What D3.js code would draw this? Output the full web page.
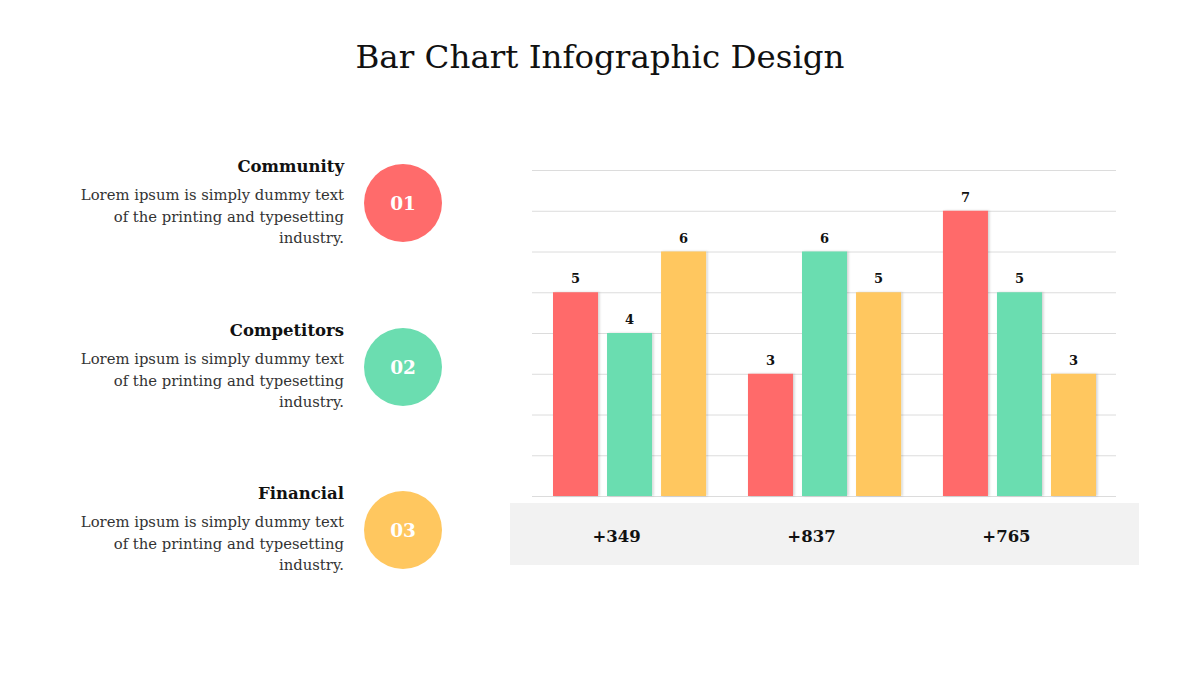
<!DOCTYPE html>
<html lang="en">
<head>
<meta charset="UTF-8">
<title>Bar Chart Infographic Design</title>
<style>
	body { margin: 0; background: #fff; }
	svg text { font-family: "DejaVu Serif", serif; fill: #111; }
	.title { font-size: 32.5px; text-anchor: middle; }
	.head { font-size: 16.5px; font-weight: bold; text-anchor: end; }
	.body { font-size: 14.8px; text-anchor: end; fill: #333; }
	.num { font-size: 18.5px; font-weight: bold; fill: #fff; text-anchor: middle; }
	.val { font-size: 13px; font-weight: bold; text-anchor: middle; }
	.total { font-size: 16.5px; font-weight: bold; text-anchor: middle; }
	.grid line { stroke: #dcdcdc; stroke-width: 1; }
</style>
</head>
<body>
<svg id="chart" width="1200" height="675"></svg>
<script src="https://d3js.org/d3.v7.min.js"></script>
<script>
	var groups = ["+349", "+837", "+765"];
	var series = ["Community", "Competitors", "Financial"];
	var colors = ["#ff6b6b", "#6bddb0", "#ffc75f"];
	var community = [5, 3, 7];
	var competitors = [4, 6, 5];
	var financial = [6, 5, 3];
	var ticks = [0, 1, 2, 3, 4, 5, 6, 7, 8];
	var badges = ["01", "02", "03"];
	var lorem = ["Lorem ipsum is simply dummy text", "of the printing and typesetting", "industry."];

	var values = [community, competitors, financial];

	var svg = d3.select("#chart");

	svg.append("text").attr("class", "title")
		.attr("x", 600).attr("y", 68)
		.text("Bar Chart Infographic Design");

	// left legend blocks
	var block = svg.selectAll("g.block")
		.data(series)
		.enter().append("g")
		.attr("class", "block")
		.attr("transform", function(d, i) { return "translate(0," + [0, 164, 327][i] + ")"; });

	block.append("text").attr("class", "head")
		.attr("x", 344).attr("y", 172)
		.text(function(d) { return d; });

	block.selectAll("text.body")
		.data(lorem)
		.enter().append("text")
		.attr("class", "body")
		.attr("x", 344)
		.attr("y", function(d, i) { return 200 + i * 21.5; })
		.text(function(d) { return d; });

	block.append("circle")
		.attr("cx", 403).attr("cy", 203).attr("r", 39)
		.attr("fill", function(d, i) { return colors[i]; });

	block.append("text").attr("class", "num")
		.attr("x", 403).attr("y", 209.5)
		.text(function(d, i) { return badges[i]; });

	// chart
	var y = d3.scaleLinear().domain([0, 8]).range([496, 170]);

	var x0 = d3.scaleBand().domain(groups).range([553, 1096]).paddingInner(0.215).paddingOuter(0);
	var x1 = d3.scaleBand().domain(series).range([0, x0.bandwidth()]).paddingInner(0.167).paddingOuter(0);

	var defs = svg.append("defs");
	var f = defs.append("filter").attr("id", "shadow").attr("x", "-20%").attr("y", "-5%").attr("width", "140%").attr("height", "110%");
	f.append("feDropShadow").attr("dx", 1.5).attr("dy", 0).attr("stdDeviation", 1.2)
		.attr("flood-color", "#000").attr("flood-opacity", 0.18);

	svg.append("g").attr("class", "grid")
		.selectAll("line")
		.data(ticks)
		.enter().append("line")
		.attr("x1", 532).attr("x2", 1116)
		.attr("y1", function(d) { return y(d) + 0.5; })
		.attr("y2", function(d) { return y(d) + 0.5; });

	// bottom band with totals
	svg.append("rect")
		.attr("x", 510).attr("y", 503).attr("width", 629).attr("height", 62)
		.attr("fill", "#f2f2f2");

	var g = svg.selectAll("g.group")
		.data(groups)
		.enter().append("g")
		.attr("class", "group")
		.attr("transform", function(d) { return "translate(" + x0(d) + ",0)"; });

	var bar = g.selectAll("g.bar")
		.data(function(d, gi) {
			return series.map(function(s, si) { return { s: s, i: si, v: values[si][gi] }; });
		})
		.enter().append("g").attr("class", "bar");

	bar.append("rect")
		.attr("x", function(d) { return x1(d.s); })
		.attr("y", function(d) { return y(d.v); })
		.attr("width", x1.bandwidth())
		.attr("height", function(d) { return y(0) - y(d.v); })
		.attr("fill", function(d) { return colors[d.i]; })
		.attr("filter", "url(#shadow)");

	bar.append("text").attr("class", "val")
		.attr("x", function(d) { return x1(d.s) + x1.bandwidth() / 2; })
		.attr("y", function(d) { return y(d.v) - 9; })
		.text(function(d) { return d.v; });

	// totals sit a little left of the group centre, as in the slide
	svg.selectAll("text.total")
		.data(groups)
		.enter().append("text")
		.attr("class", "total")
		.attr("x", function(d) { return x0(d) + x0.bandwidth() / 2 - 13; })
		.attr("y", 542)
		.text(function(d) { return d; });
</script>
</body>
</html>
